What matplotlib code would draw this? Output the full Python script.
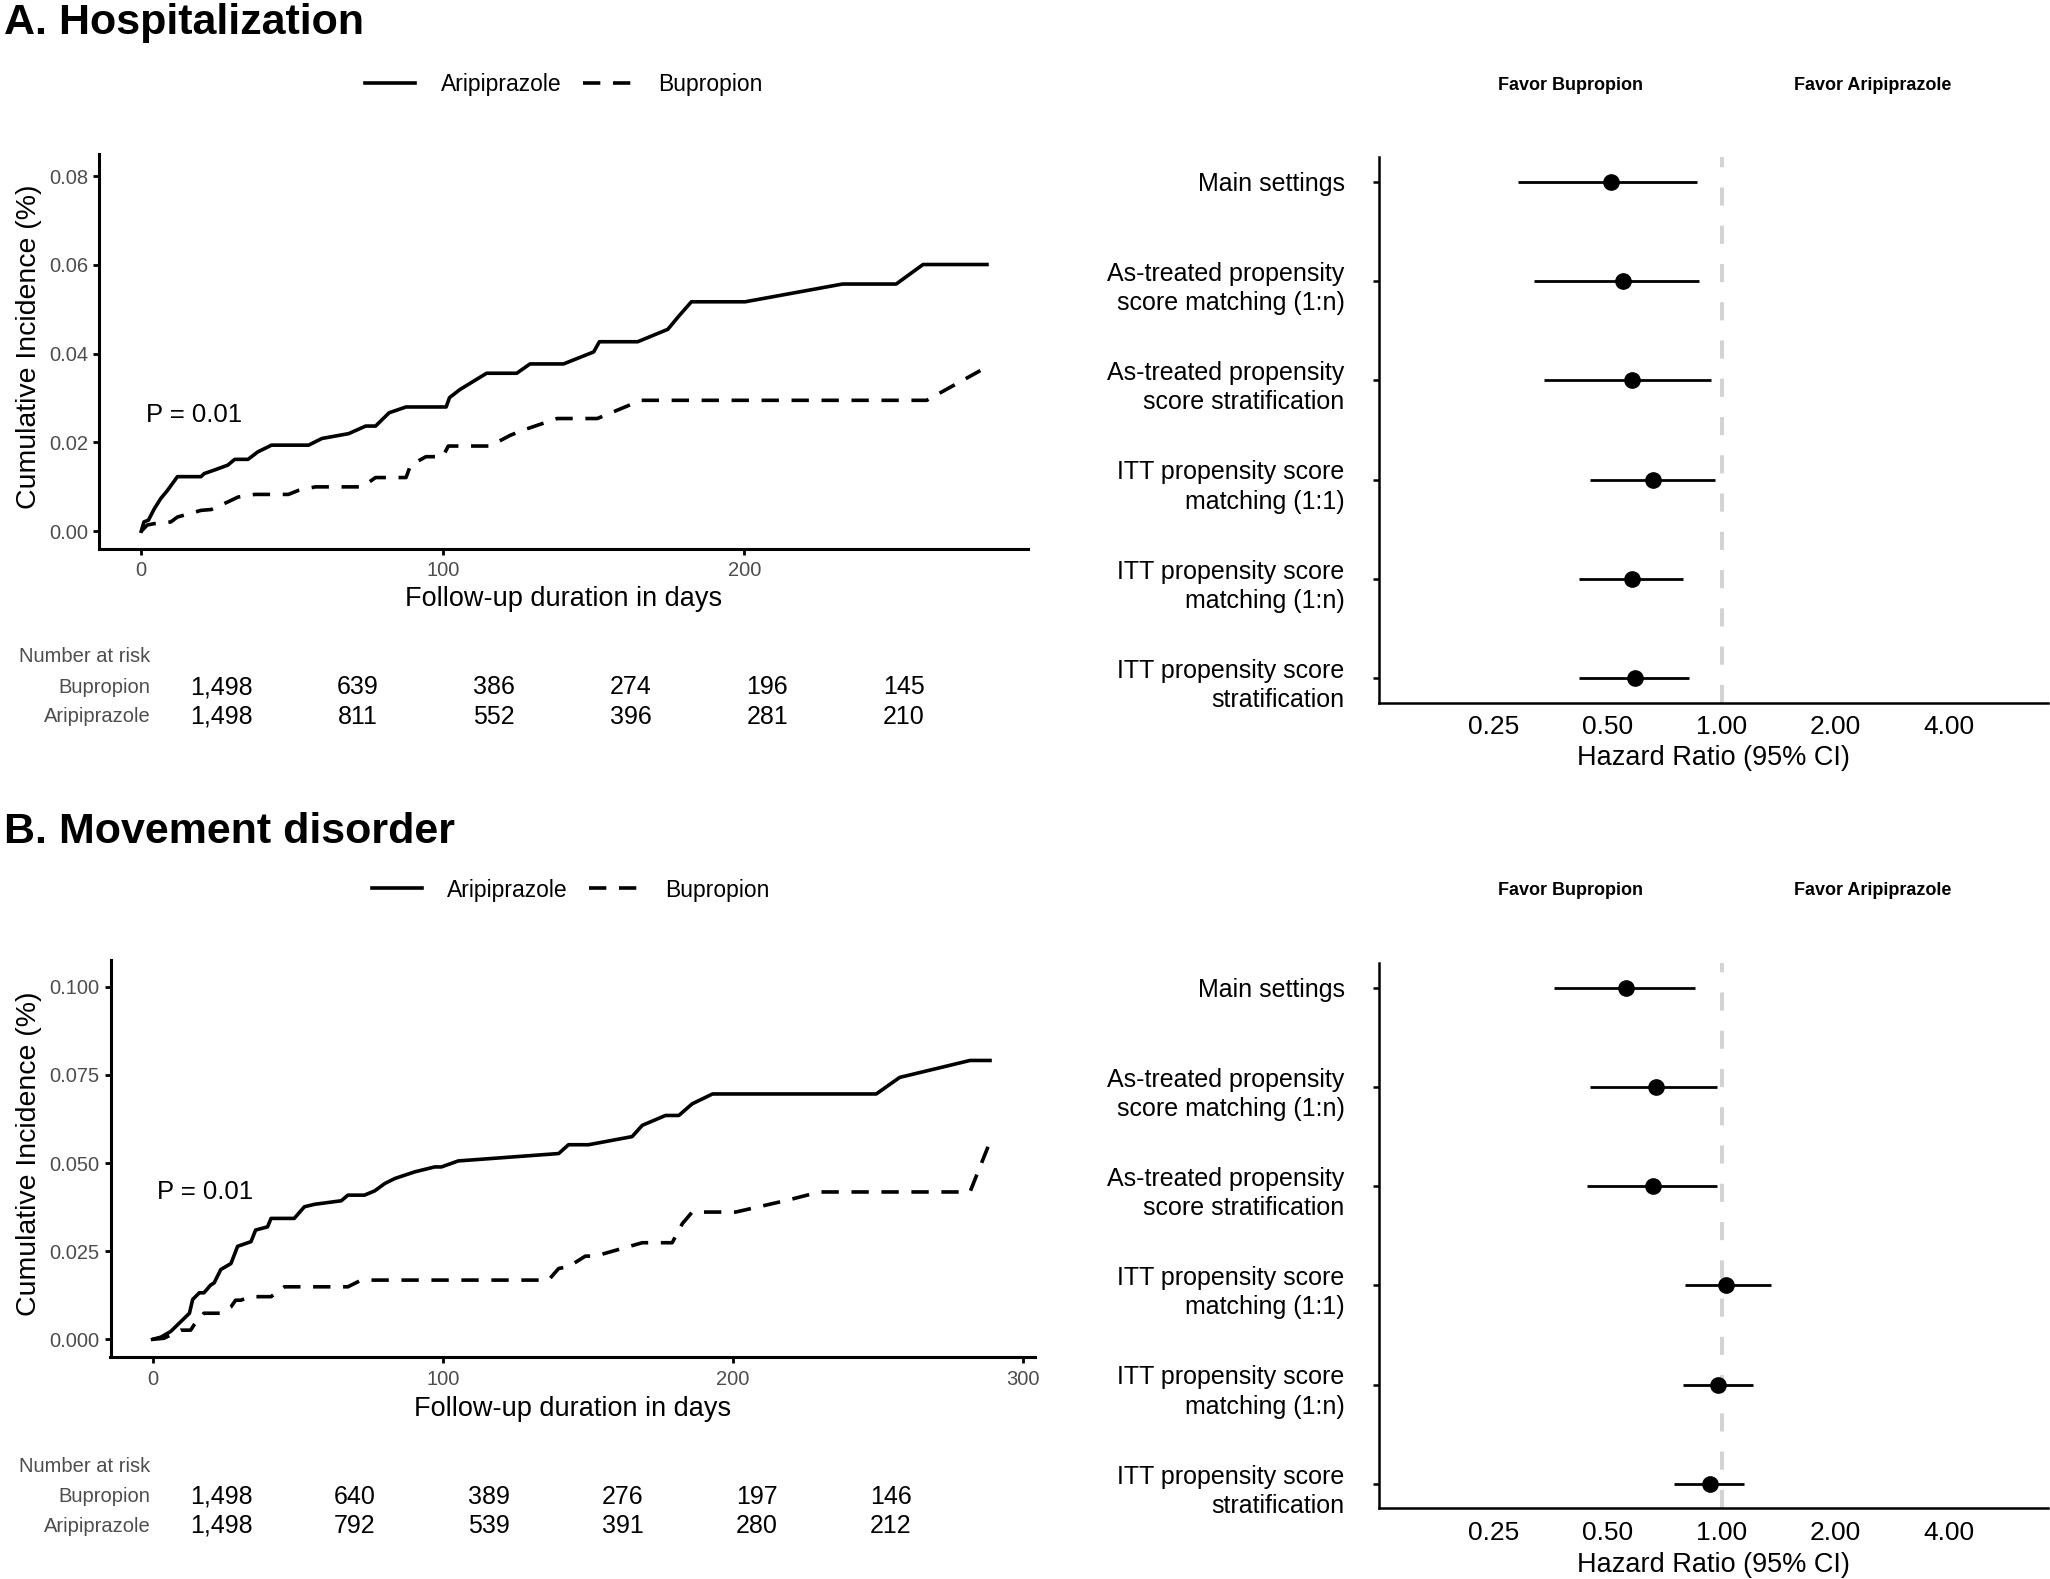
import matplotlib.pyplot as plt
from matplotlib.ticker import NullLocator
from matplotlib.transforms import ScaledTranslation
import numpy as np

plt.rcParams['font.family'] = ['Liberation Sans', 'DejaVu Sans']

W, H = 2050, 1579

# ---- A. Hospitalization: cumulative incidence
hosp_ari_days = [0, 0.9, 2.4, 4.2, 6.5, 8.7, 12, 19.8, 20.9, 24.3, 28.7, 31, 35.4, 38.7, 43.2,
                 55.5, 59.9, 68.8, 74.4, 77.7, 82.2, 87.8, 101.1, 102.2, 105.6, 114.5, 124.5,
                 128.9, 140, 150, 151.9, 164.6, 174.6, 178, 182.4, 200.2, 232.5, 250.3, 259.2, 280.4]
hosp_ari_inc = [0, 0.0021, 0.0025, 0.0049, 0.0074, 0.0092, 0.0123, 0.0123, 0.0130, 0.0138, 0.0149,
                0.0162, 0.0162, 0.0179, 0.0194, 0.0194, 0.0209, 0.0220, 0.0237, 0.0237, 0.0267,
                0.0280, 0.0280, 0.0301, 0.0319, 0.0356, 0.0356, 0.0377, 0.0377, 0.0404, 0.0427,
                0.0427, 0.0455, 0.0483, 0.0517, 0.0517, 0.0557, 0.0557, 0.0601, 0.0601]
hosp_bup_days = [0, 2, 4.2, 9.8, 12, 19.8, 23.2, 28.7, 32.1, 37.6, 48.8, 52.1, 57.7, 73.3, 77.7,
                 87.8, 89.3, 94.4, 100, 101.8, 115.6, 122.3, 126.7, 137.9, 151.2, 165.7, 260.4, 278.2]
hosp_bup_inc = [0, 0.0014, 0.0017, 0.0021, 0.0032, 0.0047, 0.0049, 0.0066, 0.0077, 0.0083, 0.0083,
                0.0092, 0.0100, 0.0100, 0.0121, 0.0121, 0.0149, 0.0168, 0.0168, 0.0192, 0.0192,
                0.0216, 0.0228, 0.0254, 0.0254, 0.0295, 0.0295, 0.0362]
hosp_risk_bup = [1498, 639, 386, 274, 196, 145]
hosp_risk_ari = [1498, 811, 552, 396, 281, 210]

# ---- B. Movement disorder
move_ari_days = [0, 2.8, 6.2, 9.7, 12.7, 13.8, 16.1, 17.7, 20, 21.2, 23.5, 27, 29.3, 30.4, 33.9,
                 35.5, 39.6, 40.8, 48.8, 52.3, 55.8, 65, 67.3, 73, 76.5, 80, 83.4, 90.3, 97.2,
                 99.5, 105.3, 139.9, 143.3, 150.2, 165.2, 168.7, 176.7, 181.3, 185.9, 192.9,
                 249.3, 257.4, 281.6, 288.5]
move_ari_inc = [0, 0.0006, 0.0022, 0.0050, 0.0074, 0.0113, 0.0132, 0.0132, 0.0154, 0.0160, 0.0198,
                0.0215, 0.0264, 0.0267, 0.0277, 0.0310, 0.0319, 0.0343, 0.0343, 0.0376, 0.0383,
                0.0393, 0.0409, 0.0409, 0.0421, 0.0442, 0.0456, 0.0475, 0.0489, 0.0489, 0.0506,
                0.0527, 0.0552, 0.0552, 0.0575, 0.0607, 0.0635, 0.0635, 0.0668, 0.0696, 0.0696,
                0.0743, 0.0791, 0.0791]
move_bup_days = [0, 3.9, 9.7, 13.1, 14.3, 17.7, 23.5, 27, 28.6, 30.4, 33.9, 40.8, 45.4, 67.3, 71.9,
                 136.4, 139.9, 143.3, 149.1, 152.5, 168.7, 179, 182.5, 185.9, 200.9, 219.4, 229.7,
                 281.6, 288]
move_bup_inc = [0, 0.0003, 0.0026, 0.0026, 0.0041, 0.0074, 0.0074, 0.0092, 0.0111, 0.0111, 0.0121,
                0.0121, 0.0149, 0.0149, 0.0168, 0.0168, 0.0201, 0.0206, 0.0236, 0.0236, 0.0274,
                0.0274, 0.0328, 0.0361, 0.0361, 0.0396, 0.0418, 0.0418, 0.0550]
move_risk_bup = [1498, 640, 389, 276, 197, 146]
move_risk_ari = [1498, 792, 539, 391, 280, 212]

# ---- forest plots: hazard ratios with 95% CI
methods = ['Main settings',
           'As-treated propensity\nscore matching (1:n)',
           'As-treated propensity\nscore stratification',
           'ITT propensity score\nmatching (1:1)',
           'ITT propensity score\nmatching (1:n)',
           'ITT propensity score\nstratification']
hosp_hr = [0.51, 0.55, 0.58, 0.66, 0.58, 0.59]
hosp_lo = [0.29, 0.32, 0.34, 0.45, 0.42, 0.42]
hosp_hi = [0.86, 0.87, 0.94, 0.96, 0.79, 0.82]
move_hr = [0.56, 0.67, 0.66, 1.03, 0.98, 0.93]
move_lo = [0.36, 0.45, 0.44, 0.80, 0.79, 0.75]
move_hi = [0.85, 0.97, 0.97, 1.35, 1.21, 1.15]
hr_ticks = [0.25, 0.5, 1, 2, 4]


def rect(l, t, r, b):
    return [l / W, 1 - b / H, (r - l) / W, (b - t) / H]


def fx(px):
    return px / W


def fy(py):
    return 1 - py / H


fig = plt.figure(figsize=(W / 100, H / 100), dpi=100)
GREY = '#4D4D4D'


def km_panel(box, ari_d, ari_y, bup_d, bup_y, xlim, ylim, yticks, yfmt, xticks,
             leg_x, leg_y, ylab_y, xlab_x, xlab_y):
    ax = fig.add_axes(rect(*box))
    l1, = ax.plot(ari_d, ari_y, color='black', lw=2.6, solid_joinstyle='round')
    l2, = ax.plot(bup_d, bup_y, color='black', lw=2.6, ls=(0, (4.8, 3.5)))
    ax.set_xlim(*xlim)
    ax.set_ylim(*ylim)
    ax.set_xticks(xticks)
    ax.set_yticks(yticks)
    ax.set_yticklabels([yfmt.format(v) for v in yticks])
    for s in ['top', 'right']:
        ax.spines[s].set_visible(False)
    for s in ['left', 'bottom']:
        ax.spines[s].set_linewidth(2.2)
    ax.tick_params(length=4, width=2, labelsize=14.5, labelcolor=GREY)
    ax.tick_params(axis='y', pad=4)
    ax.tick_params(axis='x', pad=5)
    ax.set_ylabel('Cumulative Incidence (%)', fontsize=20.5)
    ax.yaxis.set_label_coords(fx(29), fy(ylab_y), transform=fig.transFigure)
    ax.yaxis.label.set_va('center')
    ax.set_xlabel('Follow-up duration in days', fontsize=19.5)
    ax.xaxis.set_label_coords(fx(xlab_x), fy(xlab_y), transform=fig.transFigure)
    ax.xaxis.label.set_va('center')
    ax.legend([l1, l2], ['Aripiprazole', 'Bupropion'], ncol=2, loc='center left',
              bbox_to_anchor=(fx(leg_x), fy(leg_y)), bbox_transform=fig.transFigure,
              frameon=False, fontsize=16.5, handlelength=2.18, handletextpad=1.12,
              columnspacing=0.93, borderpad=0, borderaxespad=0)
    return ax


def risk_table(top_y, x0, dx, bup, ari):
    fig.text(fx(150.7), fy(top_y), 'Number at risk', ha='right', va='center',
             fontsize=14.5, color=GREY)
    for row, (name, vals) in enumerate([('Bupropion', bup), ('Aripiprazole', ari)]):
        yy = top_y + 30 + row * 29.5
        fig.text(fx(150.7), fy(yy), name, ha='right', va='center', fontsize=14.5, color=GREY)
        for i, v in enumerate(vals):
            fig.text(fx(x0 + i * dx), fy(yy), f'{v:,}', ha='center', va='center',
                     fontsize=18, color='black')


def forest_panel(box, hr, lo, hi, fav_y, xlab_y):
    ax = fig.add_axes(rect(*box))
    ypos = np.arange(len(methods), 0, -1)
    ax.axvline(1, color='#D3D3D3', lw=2.9, ls=(0, (4.5, 5)), zorder=1)
    ax.hlines(ypos, lo, hi, color='black', lw=2, zorder=2)
    ax.plot(hr, ypos, 'o', color='black', ms=11, zorder=3)
    ax.set_xscale('log', base=2)
    ax.set_xlim(0.1242, 7.3)
    ax.set_ylim(0.754, 6.25)
    ax.set_xticks(hr_ticks)
    ax.set_xticklabels(['0.25', '0.50', '1.00', '2.00', '4.00'])
    ax.xaxis.set_minor_locator(NullLocator())
    ax.set_yticks(ypos)
    ax.set_yticklabels([])
    # method labels as texts so the two-line ones can sit slightly below their tick
    for yv, name in zip(ypos, methods):
        dy = 7.5 if '\n' in name else 2.0
        tr = ax.get_yaxis_transform() + ScaledTranslation(-34.4 / 100, -dy / 100, fig.dpi_scale_trans)
        ax.text(0, yv, name, transform=tr, ha='right', va='center', fontsize=18,
                linespacing=1.28, clip_on=False)
    for s in ['top', 'right']:
        ax.spines[s].set_visible(False)
    for s in ['left', 'bottom']:
        ax.spines[s].set_linewidth(1.8)
    ax.tick_params(axis='x', length=0, pad=9, labelsize=19)
    ax.tick_params(axis='y', length=4, width=1.8)
    ax.set_xlabel('Hazard Ratio (95% CI)', fontsize=19.5)
    ax.xaxis.set_label_coords(fx(1713), fy(xlab_y), transform=fig.transFigure)
    ax.xaxis.label.set_va('center')
    fig.text(fx(1570), fy(fav_y), 'Favor Bupropion', ha='center', va='center',
             fontsize=13, fontweight='bold')
    fig.text(fx(1873), fy(fav_y), 'Favor Aripiprazole', ha='center', va='center',
             fontsize=13, fontweight='bold')
    return ax


# Panel A
fig.text(fx(4), fy(23), 'A. Hospitalization', ha='left', va='center', fontsize=31, fontweight='bold')
axA = km_panel((99, 154, 1028, 549), hosp_ari_days, hosp_ari_inc, hosp_bup_days, hosp_bup_inc,
               (-14, 294), (-0.004, 0.085), [0, 0.02, 0.04, 0.06, 0.08], '{:.2f}', [0, 100, 200],
               365, 84.5, 347, 563.5, 599)
axA.text(1.6, 0.0263, 'P = 0.01', ha='left', va='center', fontsize=18.5)
risk_table(657, 221, 136.6, hosp_risk_bup, hosp_risk_ari)
forest_panel((1379, 156.7, 2048, 702.7), hosp_hr, hosp_lo, hosp_hi, 85, 758)

# Panel B
fig.text(fx(4), fy(832), 'B. Movement disorder', ha='left', va='center', fontsize=31, fontweight='bold')
axB = km_panel((110.5, 960, 1035, 1357.3), move_ari_days, move_ari_inc, move_bup_days, move_bup_inc,
               (-14.5, 304), (-0.0051, 0.1076), [0, 0.025, 0.05, 0.075, 0.1], '{:.3f}',
               [0, 100, 200, 300], 371.7, 890, 1154, 572.8, 1408.5)
axB.text(1.6, 0.0417, 'P = 0.01', ha='left', va='center', fontsize=18.5)
risk_table(1466.5, 221, 134, move_risk_bup, move_risk_ari)
forest_panel((1379, 962.7, 2048, 1508.3), move_hr, move_lo, move_hi, 890.5, 1564.5)

plt.savefig('out.png', dpi=100)
